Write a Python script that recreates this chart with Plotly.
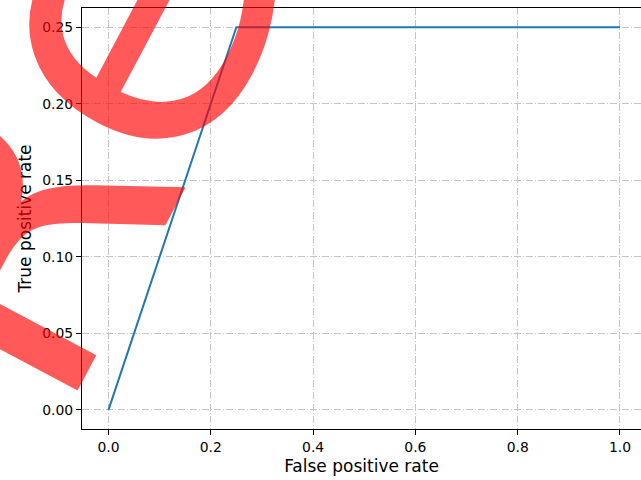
import plotly.graph_objects as go

# Data
fpr = [0.0, 0.25, 1.0]
tpr = [0.0, 0.25, 0.25]
x_ticks = [0.0, 0.2, 0.4, 0.6, 0.8, 1.0]
y_ticks = [0.00, 0.05, 0.10, 0.15, 0.20, 0.25]
x_title = "False positive rate"
y_title = "True positive rate"
watermark = "Re"

FONT = "DejaVu Sans"
GRID = "#c4c4c4"

fig = go.Figure()
fig.add_trace(go.Scatter(x=fpr, y=tpr, mode="lines",
                         line=dict(color="#1f77b4", width=2), showlegend=False))

fig.update_layout(
    width=641, height=480,
    margin=dict(l=82.4, r=0, t=7.5, b=50.8, pad=0),
    paper_bgcolor="white", plot_bgcolor="white",
    font=dict(family=FONT, size=13.9, color="black"),
    xaxis=dict(range=[-0.0518, 1.0411], tickvals=x_ticks, tickformat=".1f",
               showgrid=True, gridcolor=GRID, gridwidth=1.1, griddash="7px,2px,1px,2px",
               showline=True, linecolor="black", linewidth=1.1, mirror=True,
               ticks="outside", ticklen=5, tickwidth=1.1, tickcolor="black",
               zeroline=False,
               title=dict(text=x_title, standoff=6)),
    yaxis=dict(range=[-0.0125, 0.2625], tickvals=y_ticks, tickformat=".2f",
               showgrid=True, gridcolor=GRID, gridwidth=1.1, griddash="7px,2px,1px,2px",
               showline=True, linecolor="black", linewidth=1.1, mirror=False,
               ticks="outside", ticklen=5, tickwidth=1.1, tickcolor="black",
               zeroline=False,
               title=dict(text=y_title, standoff=6)),
)

fig.add_annotation(text=watermark, xref="paper", yref="paper",
                   x=-0.0473, y=0.700, xanchor="center", yanchor="middle",
                   showarrow=False, textangle=-62,
                   font=dict(family=FONT, size=405, color="rgba(255,0,0,0.65)"))

fig.write_html("out.html")
